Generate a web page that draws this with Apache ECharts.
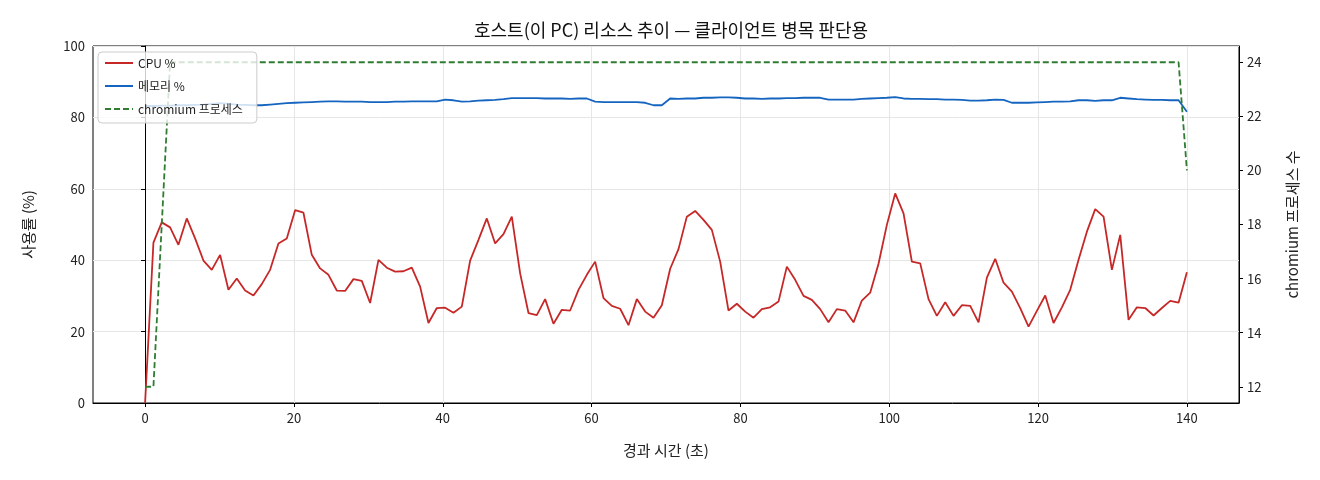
<!DOCTYPE html>
<html>
<head>
<meta charset="utf-8">
<title>호스트 리소스 추이</title>
<script src="https://cdn.jsdelivr.net/npm/echarts@6/dist/echarts.min.js"></script>
<style>
  html, body { margin: 0; padding: 0; background: #fff; }
  #chart { width: 1320px; height: 480px; }
</style>
</head>
<body>
<div id="chart"></div>
<script>
// elapsed seconds of each sample
const elapsed = [
  0, 1.12, 2.24, 3.36, 4.48, 5.6, 6.72, 7.84, 8.96, 10.08,
  11.2, 12.32, 13.44, 14.56, 15.68, 16.8, 17.92, 19.04, 20.16, 21.28,
  22.4, 23.52, 24.64, 25.76, 26.88, 28.0, 29.12, 30.24, 31.36, 32.48,
  33.6, 34.72, 35.84, 36.96, 38.08, 39.2, 40.32, 41.44, 42.56, 43.68,
  44.8, 45.92, 47.04, 48.16, 49.28, 50.4, 51.52, 52.64, 53.76, 54.88,
  56.0, 57.12, 58.24, 59.36, 60.48, 61.6, 62.72, 63.84, 64.96, 66.08,
  67.2, 68.32, 69.44, 70.56, 71.68, 72.8, 73.92, 75.04, 76.16, 77.28,
  78.4, 79.52, 80.64, 81.76, 82.88, 84.0, 85.12, 86.24, 87.36, 88.48,
  89.6, 90.72, 91.84, 92.96, 94.08, 95.2, 96.32, 97.44, 98.56, 99.68,
  100.8, 101.92, 103.04, 104.16, 105.28, 106.4, 107.52, 108.64, 109.76, 110.88,
  112.0, 113.12, 114.24, 115.36, 116.48, 117.6, 118.72, 119.84, 120.96, 122.08,
  123.2, 124.32, 125.44, 126.56, 127.68, 128.8, 129.92, 131.04, 132.16, 133.28,
  134.4, 135.52, 136.64, 137.76, 138.88, 140.0
]

const cpuPct = [
  0, 44.9, 50.6, 49.2, 44.3, 51.7, 46.1, 39.9, 37.3, 41.5,
  31.7, 34.9, 31.5, 30.1, 33.3, 37.3, 44.7, 46.1, 54.0, 53.3,
  41.5, 37.7, 35.9, 31.5, 31.4, 34.7, 34.2, 28.0, 40.1, 37.9,
  36.8, 36.9, 37.9, 32.6, 22.4, 26.6, 26.7, 25.3, 27.0, 39.9,
  45.7, 51.7, 44.7, 47.3, 52.2, 36.3, 25.2, 24.6, 29.1, 22.2,
  26.1, 25.9, 31.7, 35.9, 39.6, 29.4, 27.2, 26.4, 21.8, 29.1,
  25.6, 23.9, 27.4, 37.6, 43.1, 52.2, 53.8, 51.3, 48.5, 39.6,
  25.9, 27.8, 25.6, 23.9, 26.3, 26.8, 28.4, 38.2, 34.5, 30.0,
  28.9, 26.3, 22.6, 26.3, 25.9, 22.6, 28.7, 30.9, 39.0, 49.9,
  58.7, 53.1, 39.6, 39.1, 29.1, 24.4, 28.2, 24.4, 27.4, 27.2,
  22.6, 35.1, 40.4, 33.7, 31.2, 26.6, 21.4, 25.8, 30.1, 22.4,
  26.8, 31.7, 40.1, 48.0, 54.3, 52.2, 37.3, 47.1, 23.3, 26.8,
  26.6, 24.5, 26.6, 28.6, 28.1, 36.6
]

const memPct = [
  83.2, 83.2, 83.3, 83.3, 83.4, 83.4, 83.5, 83.6, 83.8, 84.0,
  83.8, 83.6, 83.5, 83.4, 83.4, 83.6, 83.8, 84.0, 84.1, 84.2,
  84.3, 84.4, 84.5, 84.5, 84.4, 84.4, 84.4, 84.3, 84.3, 84.3,
  84.4, 84.4, 84.5, 84.5, 84.5, 84.5, 85.0, 84.8, 84.4, 84.5,
  84.7, 84.8, 84.9, 85.1, 85.4, 85.4, 85.4, 85.4, 85.3, 85.3,
  85.3, 85.2, 85.3, 85.3, 84.4, 84.3, 84.3, 84.3, 84.3, 84.3,
  84.1, 83.4, 83.4, 85.3, 85.2, 85.3, 85.3, 85.5, 85.5, 85.6,
  85.6, 85.5, 85.3, 85.3, 85.2, 85.3, 85.3, 85.4, 85.4, 85.5,
  85.5, 85.5, 85.0, 85.0, 85.0, 85.0, 85.2, 85.3, 85.4, 85.5,
  85.7, 85.3, 85.2, 85.2, 85.1, 85.1, 85.0, 85.0, 84.9, 84.7,
  84.7, 84.8, 85.0, 84.9, 84.1, 84.1, 84.1, 84.2, 84.3, 84.4,
  84.4, 84.5, 84.8, 84.8, 84.6, 84.8, 84.8, 85.5, 85.3, 85.1,
  85.0, 84.9, 84.9, 84.8, 84.8, 81.6
]

const chromiumProcs = [
  12, 12, 18, 24, 24, 24, 24, 24, 24, 24,
  24, 24, 24, 24, 24, 24, 24, 24, 24, 24,
  24, 24, 24, 24, 24, 24, 24, 24, 24, 24,
  24, 24, 24, 24, 24, 24, 24, 24, 24, 24,
  24, 24, 24, 24, 24, 24, 24, 24, 24, 24,
  24, 24, 24, 24, 24, 24, 24, 24, 24, 24,
  24, 24, 24, 24, 24, 24, 24, 24, 24, 24,
  24, 24, 24, 24, 24, 24, 24, 24, 24, 24,
  24, 24, 24, 24, 24, 24, 24, 24, 24, 24,
  24, 24, 24, 24, 24, 24, 24, 24, 24, 24,
  24, 24, 24, 24, 24, 24, 24, 24, 24, 24,
  24, 24, 24, 24, 24, 24, 24, 24, 24, 24,
  24, 24, 24, 24, 24, 20
]

const xTicks = [0, 20, 40, 60, 80, 100, 120, 140]
const rightTicks = [12, 14, 16, 18, 20, 22, 24]

const FONT = '"Noto Sans CJK KR", "Noto Sans", sans-serif'
const pairs = (ys) => elapsed.map((t, i) => [t, ys[i]])

const chart = echarts.init(document.getElementById('chart'), null, { renderer: 'canvas' })

chart.setOption({
  animation: false,
  backgroundColor: '#ffffff',
  textStyle: { fontFamily: FONT, color: '#222' },
  title: {
    text: '호스트(이 PC) 리소스 추이 — 클라이언트 병목 판단용',
    left: 666,
    top: 16,
    textAlign: 'center',
    textStyle: { fontFamily: FONT, fontSize: 18, fontWeight: 'normal', color: '#111' }
  },
  legend: {
    orient: 'vertical',
    left: 98,
    top: 52,
    z: 10,
    padding: [5, 14, 8, 6],
    itemWidth: 28,
    itemHeight: 14,
    itemGap: 11,
    itemStyle: { opacity: 0 },
    backgroundColor: 'rgba(255,255,255,0.8)',
    borderColor: '#cccccc',
    borderWidth: 1,
    borderRadius: 4,
    textStyle: { fontFamily: FONT, fontSize: 12, color: '#222' },
    data: ['CPU %', '메모리 %', 'chromium 프로세스']
  },
  grid: {
    left: 93,
    right: 81,
    top: 46,
    bottom: 77,
    show: true,
    borderColor: '#000',
    borderWidth: 1,
    backgroundColor: 'transparent'
  },
  xAxis: {
    type: 'value',
    min: -7,
    max: 147,
    name: '경과 시간 (초)',
    nameLocation: 'middle',
    nameGap: 40,
    nameTextStyle: { fontFamily: FONT, fontSize: 15, color: '#222' },
    axisLine: { show: true, lineStyle: { color: '#000', width: 1 } },
    axisTick: { show: true, length: 4, customValues: xTicks, lineStyle: { color: '#000' } },
    axisLabel: { customValues: xTicks, fontSize: 13, color: '#222', margin: 9, fontFamily: FONT },
    splitLine: { show: true, lineStyle: { color: '#e6e6e6', width: 1 } }
  },
  yAxis: [
    {
      type: 'value',
      min: 0,
      max: 100,
      interval: 20,
      position: 'left',
      name: '사용률 (%)',
      nameLocation: 'middle',
      nameRotate: 90,
      nameGap: 57,
      nameTextStyle: { fontFamily: FONT, fontSize: 15, color: '#222' },
      axisLine: { show: true, lineStyle: { color: '#000', width: 1 } },
      axisTick: { show: true, length: 4, lineStyle: { color: '#000' } },
      axisLabel: { fontSize: 13, color: '#222', margin: 8, fontFamily: FONT },
      splitLine: { show: true, lineStyle: { color: '#e6e6e6', width: 1 } }
    },
    {
      type: 'value',
      min: 11.4,
      max: 24.6,
      position: 'right',
      name: 'chromium 프로세스 수',
      nameLocation: 'middle',
      nameRotate: 90,
      nameGap: 46,
      nameTextStyle: { fontFamily: FONT, fontSize: 15, color: '#222' },
      axisLine: { show: true, lineStyle: { color: '#000', width: 1 } },
      axisTick: { show: true, length: 4, customValues: rightTicks, lineStyle: { color: '#000' } },
      axisLabel: { customValues: rightTicks, fontSize: 13, color: '#222', margin: 8, fontFamily: FONT },
      splitLine: { show: false }
    }
  ],
  series: [
    {
      name: 'CPU %',
      type: 'line',
      yAxisIndex: 0,
      data: pairs(cpuPct),
      showSymbol: false,
      symbol: 'none',
      lineStyle: { color: '#c62828', width: 1.8 },
      itemStyle: { color: '#c62828' },
      z: 3
    },
    {
      name: '메모리 %',
      type: 'line',
      yAxisIndex: 0,
      data: pairs(memPct),
      showSymbol: false,
      symbol: 'none',
      lineStyle: { color: '#1565c0', width: 1.8 },
      itemStyle: { color: '#1565c0' },
      z: 3
    },
    {
      name: 'chromium 프로세스',
      type: 'line',
      yAxisIndex: 1,
      data: pairs(chromiumProcs),
      showSymbol: false,
      symbol: 'none',
      lineStyle: { color: '#2e7d32', width: 1.8, type: [6, 3] },
      itemStyle: { color: '#2e7d32' },
      z: 4
    }
  ]
})
</script>
</body>
</html>
